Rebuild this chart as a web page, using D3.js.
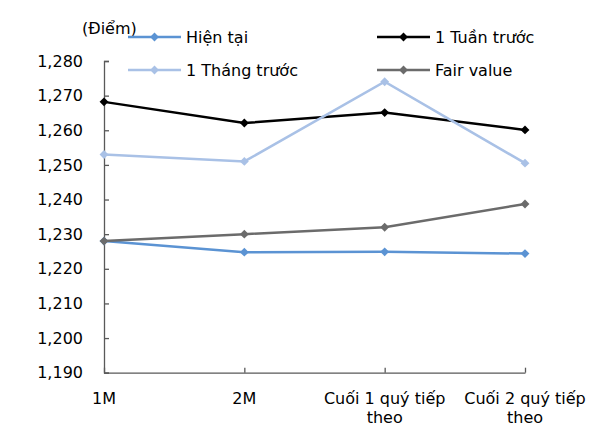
<!DOCTYPE html>
<html>
<head>
<meta charset="utf-8">
<script src="https://cdn.jsdelivr.net/npm/d3@7"></script>
<style>
  body { margin: 0; background: #fff; }
  text { font-family: "DejaVu Sans", sans-serif; font-size: 16px; fill: #000; }
</style>
</head>
<body>
<div class="line-chart"></div>
<script>
var categories = ['1M', '2M', 'Cuối 1 quý tiếp theo', 'Cuối 2 quý tiếp theo'];
var categoryLines = [['1M'], ['2M'], ['Cuối 1 quý tiếp', 'theo'], ['Cuối 2 quý tiếp', 'theo']];
var hienTai = [1228, 1224.8, 1224.9, 1224.4];
var tuanTruoc = [1268.2, 1262.1, 1265.1, 1260.1];
var thangTruoc = [1253, 1251, 1274, 1250.5];
var fairValue = [1228, 1230, 1232, 1238.7];
var yTicks = [1190, 1200, 1210, 1220, 1230, 1240, 1250, 1260, 1270, 1280];

var series = [
  { name: 'Hiện tại', values: hienTai, color: '#5b93d3' },
  { name: '1 Tuần trước', values: tuanTruoc, color: '#000000' },
  { name: '1 Tháng trước', values: thangTruoc, color: '#a9c1e6' },
  { name: 'Fair value', values: fairValue, color: '#6b6b6b' }
];

var width = 598, height = 435;

var xScale = d3.scalePoint()
  .domain(categories)
  .range([104, 525]);

var yScale = d3.scaleLinear()
  .domain([1190, 1280])
  .range([372.7, 61]);

var svg = d3.select('.line-chart').append('svg')
    .attr('width', width)
    .attr('height', height);

// y axis, ticks point inward
var yAxis = svg.append('g')
    .attr('transform', 'translate(104,0)')
    .call(d3.axisRight(yScale).tickValues(yTicks).tickSize(5).tickFormat(''));
yAxis.select('.domain').attr('stroke', '#595959').attr('stroke-width', 1.3);
yAxis.selectAll('.tick line').attr('stroke', '#595959').attr('stroke-width', 1.3);

svg.selectAll('.ylab')
  .data(yTicks)
  .enter().append('text')
    .attr('class', 'ylab')
    .attr('x', 83)
    .attr('y', function(d) { return yScale(d); })
    .attr('dy', '0.35em')
    .attr('text-anchor', 'end')
    .text(d3.format(','));

// x axis, ticks point up
var xAxis = svg.append('g')
    .attr('transform', 'translate(0,372.7)')
    .call(d3.axisTop(xScale).tickSize(5).tickSizeOuter(0).tickFormat(''));
xAxis.select('.domain').attr('stroke', '#595959').attr('stroke-width', 1.3);
xAxis.selectAll('.tick line').attr('stroke', '#595959').attr('stroke-width', 1.3);

categoryLines.forEach(function(lines, i) {
  var t = svg.append('text')
      .attr('text-anchor', 'middle')
      .attr('x', xScale(categories[i]))
      .attr('y', 404);
  lines.forEach(function(l, j) {
    t.append('tspan')
        .attr('x', xScale(categories[i]))
        .attr('dy', j === 0 ? 0 : 19)
        .text(l);
  });
});

svg.append('text')
    .attr('x', 82)
    .attr('y', 34)
    .text('(Điểm)');

var line = d3.line()
  .x(function(d, i) { return xScale(categories[i]); })
  .y(function(d) { return yScale(d); });

var diamond = d3.symbol().type(d3.symbolDiamond2).size(50);

series.forEach(function(s) {
  svg.append('path')
      .datum(s.values)
      .attr('fill', 'none')
      .attr('stroke', s.color)
      .attr('stroke-width', 2.5)
      .attr('d', line);
  svg.selectAll(null)
      .data(s.values)
      .enter().append('path')
        .attr('fill', s.color)
        .attr('transform', function(d, i) { return 'translate(' + xScale(categories[i]) + ',' + yScale(d) + ')'; })
        .attr('d', diamond);
});

// legend
var legendPos = [[128, 37], [377, 37], [128, 70], [377, 70]];
series.forEach(function(s, i) {
  var g = svg.append('g').attr('transform', 'translate(' + legendPos[i][0] + ',' + legendPos[i][1] + ')');
  g.append('line')
      .attr('x1', 0).attr('x2', 53)
      .attr('stroke', s.color)
      .attr('stroke-width', 2.5);
  g.append('path')
      .attr('fill', s.color)
      .attr('transform', 'translate(26.5,0)')
      .attr('d', diamond);
  g.append('text')
      .attr('x', 58)
      .attr('dy', '0.35em')
      .text(s.name);
});
</script>
</body>
</html>
